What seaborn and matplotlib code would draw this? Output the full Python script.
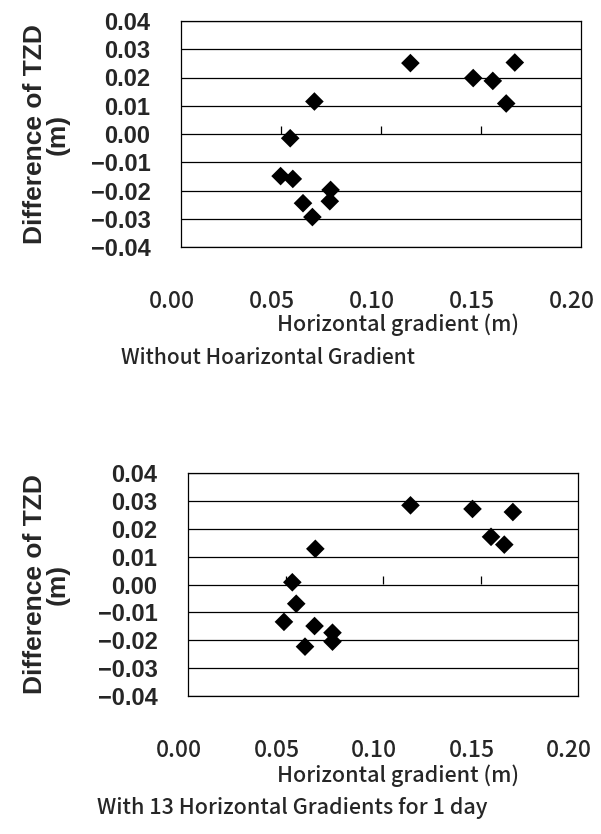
import matplotlib
matplotlib.use("Agg")
import matplotlib.pyplot as plt
import matplotlib.transforms as mtransforms
import pandas as pd
import seaborn as sns

# Horizontal gradient (m) vs. difference of TZD (m), one diamond per station
grad_without = [0.1147, 0.1669, 0.1461, 0.1559, 0.1626, 0.0667, 0.0546,
                0.0498, 0.0559, 0.0748, 0.0744, 0.0610, 0.0657]
tzd_without = [0.0251, 0.0253, 0.0198, 0.0188, 0.0108, 0.0115, -0.0015,
               -0.0149, -0.0159, -0.0198, -0.0238, -0.0245, -0.0294]

grad_with = [0.1141, 0.1459, 0.1666, 0.1554, 0.1622, 0.0653, 0.0535,
             0.0555, 0.0492, 0.0649, 0.0741, 0.0741, 0.0600]
tzd_with = [0.0284, 0.0271, 0.0260, 0.0171, 0.0143, 0.0128, 0.0008,
            -0.0069, -0.0134, -0.0149, -0.0173, -0.0205, -0.0223]

x_ticks = [0.00, 0.05, 0.10, 0.15, 0.20]
x_tick_labels = ["0.00", "0.05", "0.10", "0.15", "0.20"]
y_ticks = [0.04, 0.03, 0.02, 0.01, 0.00, -0.01, -0.02, -0.03, -0.04]
y_tick_labels = ["0.04", "0.03", "0.02", "0.01", "0.00",
                 "\u22120.01", "\u22120.02", "\u22120.03", "\u22120.04"]
inner_ticks = [0.05, 0.10, 0.15]

captions = ["Without Hoarizontal Gradient",
            "With 13 Horizontal Gradients for 1 day"]
x_title = "Horizontal gradient (m)"
y_title = "Difference of TZD\n(m)"

sns.set_theme(style="white")
plt.rcParams["font.family"] = ["Liberation Sans", "DejaVu Sans"]
gothic = ["Noto Sans CJK JP", "DejaVu Sans"]

W, H = 601, 834
fig = plt.figure(figsize=(W / 100, H / 100), dpi=100)
fig.patch.set_facecolor("white")
label_shift = mtransforms.ScaledTranslation(-9 / 100, 0, fig.dpi_scale_trans)


def axes_px(left, top, right, bottom):
    return fig.add_axes([left / W, 1 - bottom / H,
                         (right - left) / W, (bottom - top) / H])


panels = [
    dict(box=(181, 21, 581, 247), x=grad_without, y=tzd_without,
         xlabel_y=325, caption_xy=(268, 358), caption=captions[0], cap_size=15),
    dict(box=(188, 473, 578, 696), x=grad_with, y=tzd_with,
         xlabel_y=776, caption_xy=(292, 808), caption=captions[1], cap_size=15.5),
]

for p in panels:
    ax = axes_px(*p["box"])
    df = pd.DataFrame({"grad": p["x"], "tzd": p["y"]})
    sns.scatterplot(data=df, x="grad", y="tzd", ax=ax, marker="D",
                    s=90, color="black", edgecolor="none", zorder=3)

    ax.set_xlim(0.0, 0.2)
    ax.set_ylim(-0.04, 0.04)
    ax.set_facecolor("white")

    # horizontal grid at every 0.01
    ax.set_yticks(y_ticks)
    ax.set_yticklabels(y_tick_labels, fontsize=17, fontweight="bold")
    ax.yaxis.grid(True, color="black", linewidth=0.9)
    ax.xaxis.grid(False)
    ax.tick_params(axis="y", length=0, pad=22)

    ax.set_xticks(x_ticks)
    ax.set_xticklabels(x_tick_labels, fontsize=16.5, family=gothic,
                       fontweight="medium")
    ax.tick_params(axis="x", length=0, pad=31)
    for tick in ax.xaxis.get_major_ticks():
        tick.label1.set_transform(tick.label1.get_transform() + label_shift)

    for sp in ax.spines.values():
        sp.set_visible(True)
        sp.set_color("black")
        sp.set_linewidth(0.9)

    # value axis crossing at zero: short upward tick marks, no labels
    zero_axis = ax.secondary_xaxis(0.5)
    zero_axis.set_xticks(inner_ticks, labels=["", "", ""])
    zero_axis.tick_params(direction="out", length=6, width=0.9,
                          color="black")
    for sp in zero_axis.spines.values():
        sp.set_visible(False)

    ax.set_xlabel("")
    ax.set_ylabel(y_title, fontsize=19, fontweight="bold", linespacing=0.95)
    ax.yaxis.set_label_coords((70 - p["box"][0]) / (p["box"][2] - p["box"][0]), 0.5)

    fig.text(398 / W, 1 - p["xlabel_y"] / H, x_title, ha="center", va="center",
             fontsize=15.5, family=gothic, fontweight="medium")
    cx, cy = p["caption_xy"]
    fig.text(cx / W, 1 - cy / H, p["caption"], ha="center", va="center",
             fontsize=p["cap_size"], family=gothic, fontweight="medium")

fig.savefig("out.png", dpi=100, facecolor="white")
